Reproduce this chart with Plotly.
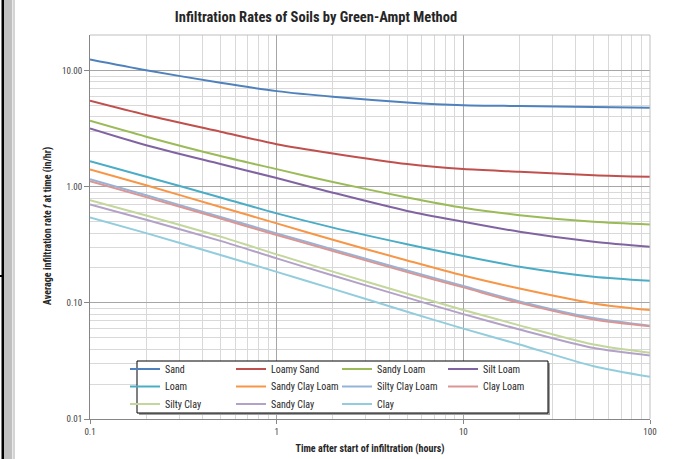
import plotly.graph_objects as go
import math

# ---------------- data ----------------
times = [0.1, 0.2, 0.5, 1, 2, 5, 10, 20, 50, 100]

soil_names = ["Sand", "Loamy Sand", "Sandy Loam", "Silt Loam", "Loam",
              "Sandy Clay Loam", "Silty Clay Loam", "Clay Loam",
              "Silty Clay", "Sandy Clay", "Clay"]

sand            = [12.5, 10.1, 7.87, 6.67, 5.96, 5.33, 5.05, 4.96, 4.86, 4.79]
loamy_sand      = [5.5, 4.15, 2.98, 2.33, 1.94, 1.57, 1.42, 1.35, 1.26, 1.22]
sandy_loam      = [3.7, 2.7, 1.84, 1.42, 1.10, 0.81, 0.66, 0.57, 0.50, 0.474]
silt_loam       = [3.18, 2.28, 1.57, 1.19, 0.89, 0.62, 0.50, 0.41, 0.336, 0.304]
loam            = [1.66, 1.22, 0.81, 0.59, 0.445, 0.32, 0.253, 0.205, 0.168, 0.155]
sandy_clay_loam = [1.41, 1.03, 0.67, 0.484, 0.35, 0.232, 0.172, 0.133, 0.099, 0.0867]
silty_clay_loam = [1.16, 0.845, 0.55, 0.397, 0.289, 0.19, 0.14, 0.103, 0.074, 0.0635]
clay_loam       = [1.12, 0.815, 0.533, 0.384, 0.28, 0.184, 0.136, 0.100, 0.072, 0.063]
silty_clay      = [0.768, 0.566, 0.372, 0.262, 0.186, 0.12, 0.087, 0.064, 0.0438, 0.0372]
sandy_clay      = [0.705, 0.52, 0.342, 0.242, 0.172, 0.111, 0.080, 0.059, 0.0408, 0.0353]
clay            = [0.545, 0.399, 0.259, 0.185, 0.132, 0.084, 0.060, 0.0438, 0.0285, 0.0231]

series = [sand, loamy_sand, sandy_loam, silt_loam, loam, sandy_clay_loam,
          silty_clay_loam, clay_loam, silty_clay, sandy_clay, clay]

colors = ["#4F81BD", "#C0504D", "#9BBB59", "#8064A2", "#4BACC6", "#F79646",
          "#95B3D7", "#D99694", "#C3D69B", "#B3A2C7", "#93CDDD"]

x_tick_vals = [0.1, 1, 10, 100]
x_tick_text = ["0.1", "1", "10", "100"]
y_tick_vals = [0.01, 0.1, 1, 10]
y_tick_text = ["0.01", "0.10", "1.00", "10.00"]

title_text = "Infiltration Rates of Soils by Green-Ampt Method"
x_title = "Time after start of infiltration (hours)"
y_title = "Average infiltration rate <i>f</i> at time (in/hr)"

# ---------------- figure ----------------
FONT = "Liberation Sans Narrow, Roboto Condensed, Liberation Sans, Arial"

W, H = 688, 459
L, R, T, B = 90, 38, 35, 40
pw, ph = W - L - R, H - T - B


def px(xp):
    return (xp - L) / pw


def py(yp):
    return (H - B - yp) / ph


# legend: one horizontal legend per row (4 entries per row, as in Excel)
legend_ids = ["legend", "legend2", "legend3"]
row_tops = [354.5, 372.0, 389.5]

fig = go.Figure()
for i in range(len(series)):
    fig.add_trace(go.Scatter(
        x=times, y=series[i], name=soil_names[i], mode="lines",
        line=dict(color=colors[i], width=2, shape="spline", smoothing=0.8),
        legend=legend_ids[i // 4], legendrank=i,
        hoverinfo="skip"))

minor_x = [m * 10 ** e for e in (-1, 0, 1) for m in range(2, 10)]
minor_y = [m * 10 ** e for e in (-2, -1, 0, 1) for m in range(2, 10)]

fig.update_xaxes(
    type="log", range=[-1, 2], automargin=False,
    tickmode="array", tickvals=x_tick_vals, ticktext=x_tick_text,
    showgrid=True, gridcolor="#a6a6a6", gridwidth=1,
    minor=dict(tickmode="array", tickvals=minor_x, showgrid=True,
               gridcolor="#d9d9d9", gridwidth=1, ticks=""),
    ticks="outside", ticklen=4, tickcolor="#868686",
    showline=True, linecolor="#868686", linewidth=1, mirror=False,
    tickfont=dict(family=FONT, size=9, color="#404040"),
    title=dict(text="<b>" + x_title + "</b>", standoff=9,
               font=dict(family=FONT, size=10, color="#262626")),
    zeroline=False,
)
fig.update_yaxes(
    type="log", range=[-2, math.log10(20.3)], automargin=False,
    tickmode="array", tickvals=y_tick_vals, ticktext=y_tick_text,
    showgrid=True, gridcolor="#a6a6a6", gridwidth=1,
    minor=dict(tickmode="array", tickvals=minor_y, showgrid=True,
               gridcolor="#d9d9d9", gridwidth=1, ticks=""),
    ticks="outside", ticklen=5, tickcolor="#868686",
    showline=True, linecolor="#868686", linewidth=1, mirror=False,
    tickfont=dict(family=FONT, size=9, color="#404040"),
    zeroline=False,
)

legends = {}
for k, lid in enumerate(legend_ids):
    legends[lid] = dict(orientation="h", yanchor="top", xanchor="left",
                        x=px(125), y=py(row_tops[k]),
                        entrywidth=61, entrywidthmode="pixels",
                        bgcolor="rgba(0,0,0,0)", borderwidth=0,
                        font=dict(family=FONT, size=10, color="#262626"),
                        itemwidth=30)

shapes = [
    # border of plot area (top/right light gray)
    dict(type="line", xref="paper", yref="paper", x0=0, x1=1, y0=1, y1=1,
         line=dict(color="#bfbfbf", width=1)),
    dict(type="line", xref="paper", yref="paper", x0=1, x1=1, y0=0, y1=1,
         line=dict(color="#bfbfbf", width=1)),
    # legend box shadow + box
    dict(type="rect", xref="paper", yref="paper",
         x0=px(139), x1=px(550), y0=py(415), y1=py(363),
         fillcolor="#a0a0a0", line=dict(width=0), layer="above"),
    dict(type="rect", xref="paper", yref="paper",
         x0=px(137), x1=px(548), y0=py(413), y1=py(361),
         fillcolor="white", line=dict(color="#000000", width=1), layer="above"),
    # left window edge artefact
    dict(type="rect", xref="paper", yref="paper",
         x0=px(4), x1=px(12), y0=py(H), y1=py(0),
         fillcolor="#c0c0c0", line=dict(width=0)),
    dict(type="rect", xref="paper", yref="paper",
         x0=px(12.5), x1=px(15), y0=py(H), y1=py(0),
         fillcolor="#d4d4d4", line=dict(width=0)),
    dict(type="rect", xref="paper", yref="paper",
         x0=px(1.5), x1=px(4), y0=py(H), y1=py(0),
         fillcolor="#000000", line=dict(width=0)),
    dict(type="line", xref="paper", yref="paper",
         x0=px(0), x1=px(3), y0=py(276), y1=py(276),
         line=dict(color="#000000", width=2)),
]

annotations = [
    dict(text="<b>" + y_title + "</b>", textangle=-90, showarrow=False,
         xref="paper", yref="paper", x=px(48), y=py(226),
         xanchor="center", yanchor="middle",
         font=dict(family=FONT, size=10, color="#262626")),
]

fig.update_layout(
    width=W, height=H,
    margin=dict(l=L, r=R, t=T, b=B, autoexpand=False),
    paper_bgcolor="white", plot_bgcolor="white",
    title=dict(text="<b>" + title_text + "</b>", x=316 / W, xanchor="center",
               y=1 - 17 / H, yanchor="middle",
               font=dict(family=FONT, size=14.5, color="#262626")),
    shapes=shapes,
    annotations=annotations,
    showlegend=True,
    **legends,
)

fig.write_html("out.html",
               config={"displayModeBar": False},
               post_script="document.body.style.margin='0px';")
